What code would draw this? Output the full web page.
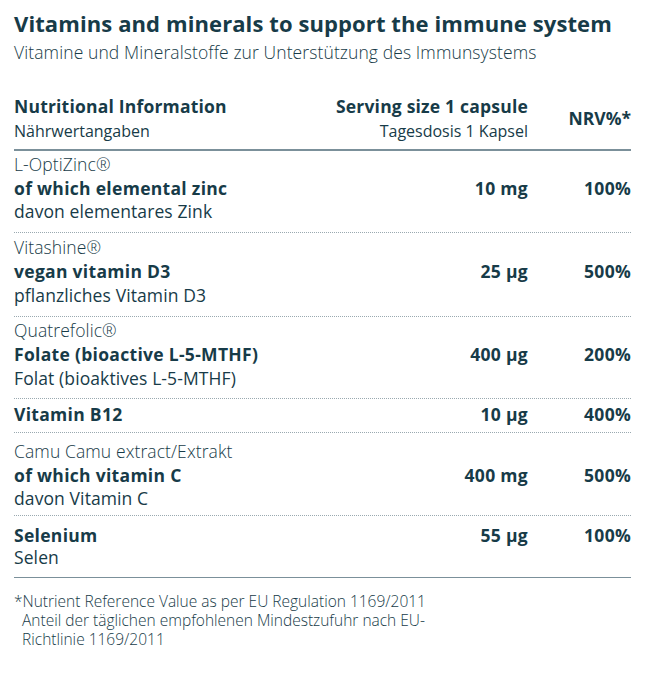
<!DOCTYPE html>
<html><head><meta charset="utf-8">
<script src="https://cdn.jsdelivr.net/npm/chart.js@4"></script>
<style>
body{margin:0;width:648px;height:675px;background:#fff;font-family:"Open Sans",Lato,sans-serif;color:#173b48;position:relative;overflow:hidden}
.t{position:absolute;white-space:nowrap;line-height:1;transform:translateY(-50%)}
.b{font-weight:700}
.ln{position:absolute;left:14px;width:617px;height:0}
</style></head><body>
<script>
const title="Vitamins and minerals to support the immune system";
const subtitle="Vitamine und Mineralstoffe zur Unterstützung des Immunsystems";
const headers=[["Nutritional Information","Nährwertangaben"],["Serving size 1 capsule","Tagesdosis 1 Kapsel"],["NRV%*"]];
const brands=["L-OptiZinc®","Vitashine®","Quatrefolic®","","Camu Camu extract/Extrakt",""];
const nutrients=["of which elemental zinc","vegan vitamin D3","Folate (bioactive L-5-MTHF)","Vitamin B12","of which vitamin C","Selenium"];
const german=["davon elementares Zink","pflanzliches Vitamin D3","Folat (bioaktives L-5-MTHF)","","davon Vitamin C","Selen"];
const amounts=["10 mg","25 µg","400 µg","10 µg","400 mg","55 µg"];
const nrv=["100%","500%","200%","400%","500%","100%"];
const footnote=["*Nutrient Reference Value as per EU Regulation 1169/2011","  Anteil der täglichen empfohlenen Mindestzufuhr nach EU-","  Richtlinie 1169/2011"];

function T(txt,x,y,size,cls,right,ls){const d=document.createElement('div');d.className='t '+(cls||'');d.textContent=txt;d.style.fontSize=size+'px';d.style.top=y+'px';if(ls)d.style.letterSpacing=ls+'px';if(right){d.style.right=(648-x)+'px';}else d.style.left=x+'px';document.body.appendChild(d);return d;}
function L(y,style){const d=document.createElement('div');d.className='ln';d.style.top=y+'px';d.style.borderTop=style;document.body.appendChild(d);}
T(title,14,23,22,'b',false,0.1);
T(subtitle,14,53,17.5,'',false,0.1).style.fontWeight=300;
T(headers[0][0],14,107,17.5,'b',false,0.2);T(headers[0][1],14,131,16);
T(headers[1][0],528,107,17.5,'b',true,0.2);T(headers[1][1],528,131,16,'',true);
T(headers[2][0],631,119,17.5,'b',true);
L(149,'2px solid #7b909a');
const rows=[[165,189,212],[248,272,296],[331,355,379],[null,415,null],[452,476,499],[null,536,558]];
const lines=[232,316,398,432,515];
rows.forEach((r,i)=>{
 if(r[0]!==null&&brands[i])T(brands[i],14,r[0],17.5,'',false,0.1).style.fontWeight=300;
 T(nutrients[i],14,r[1],17.5,'b',false,0.3);
 if(r[2]!==null&&german[i])T(german[i],14,r[2],17.5,'',false,0.1);
 const vy=(i==5)?536:r[1];
 T(amounts[i],528,vy,17.5,'b',true,0.3);T(nrv[i],631,vy,17.5,'b',true,0.3);
});
lines.forEach(y=>L(y,'1px dotted #9aa9b0'));
L(577,'1.5px solid #7b909a');
footnote.forEach((f,i)=>{const d=T(f,14,602+i*19,15.5);d.style.whiteSpace='pre';d.style.fontWeight=300;});
</script>
</body></html>
